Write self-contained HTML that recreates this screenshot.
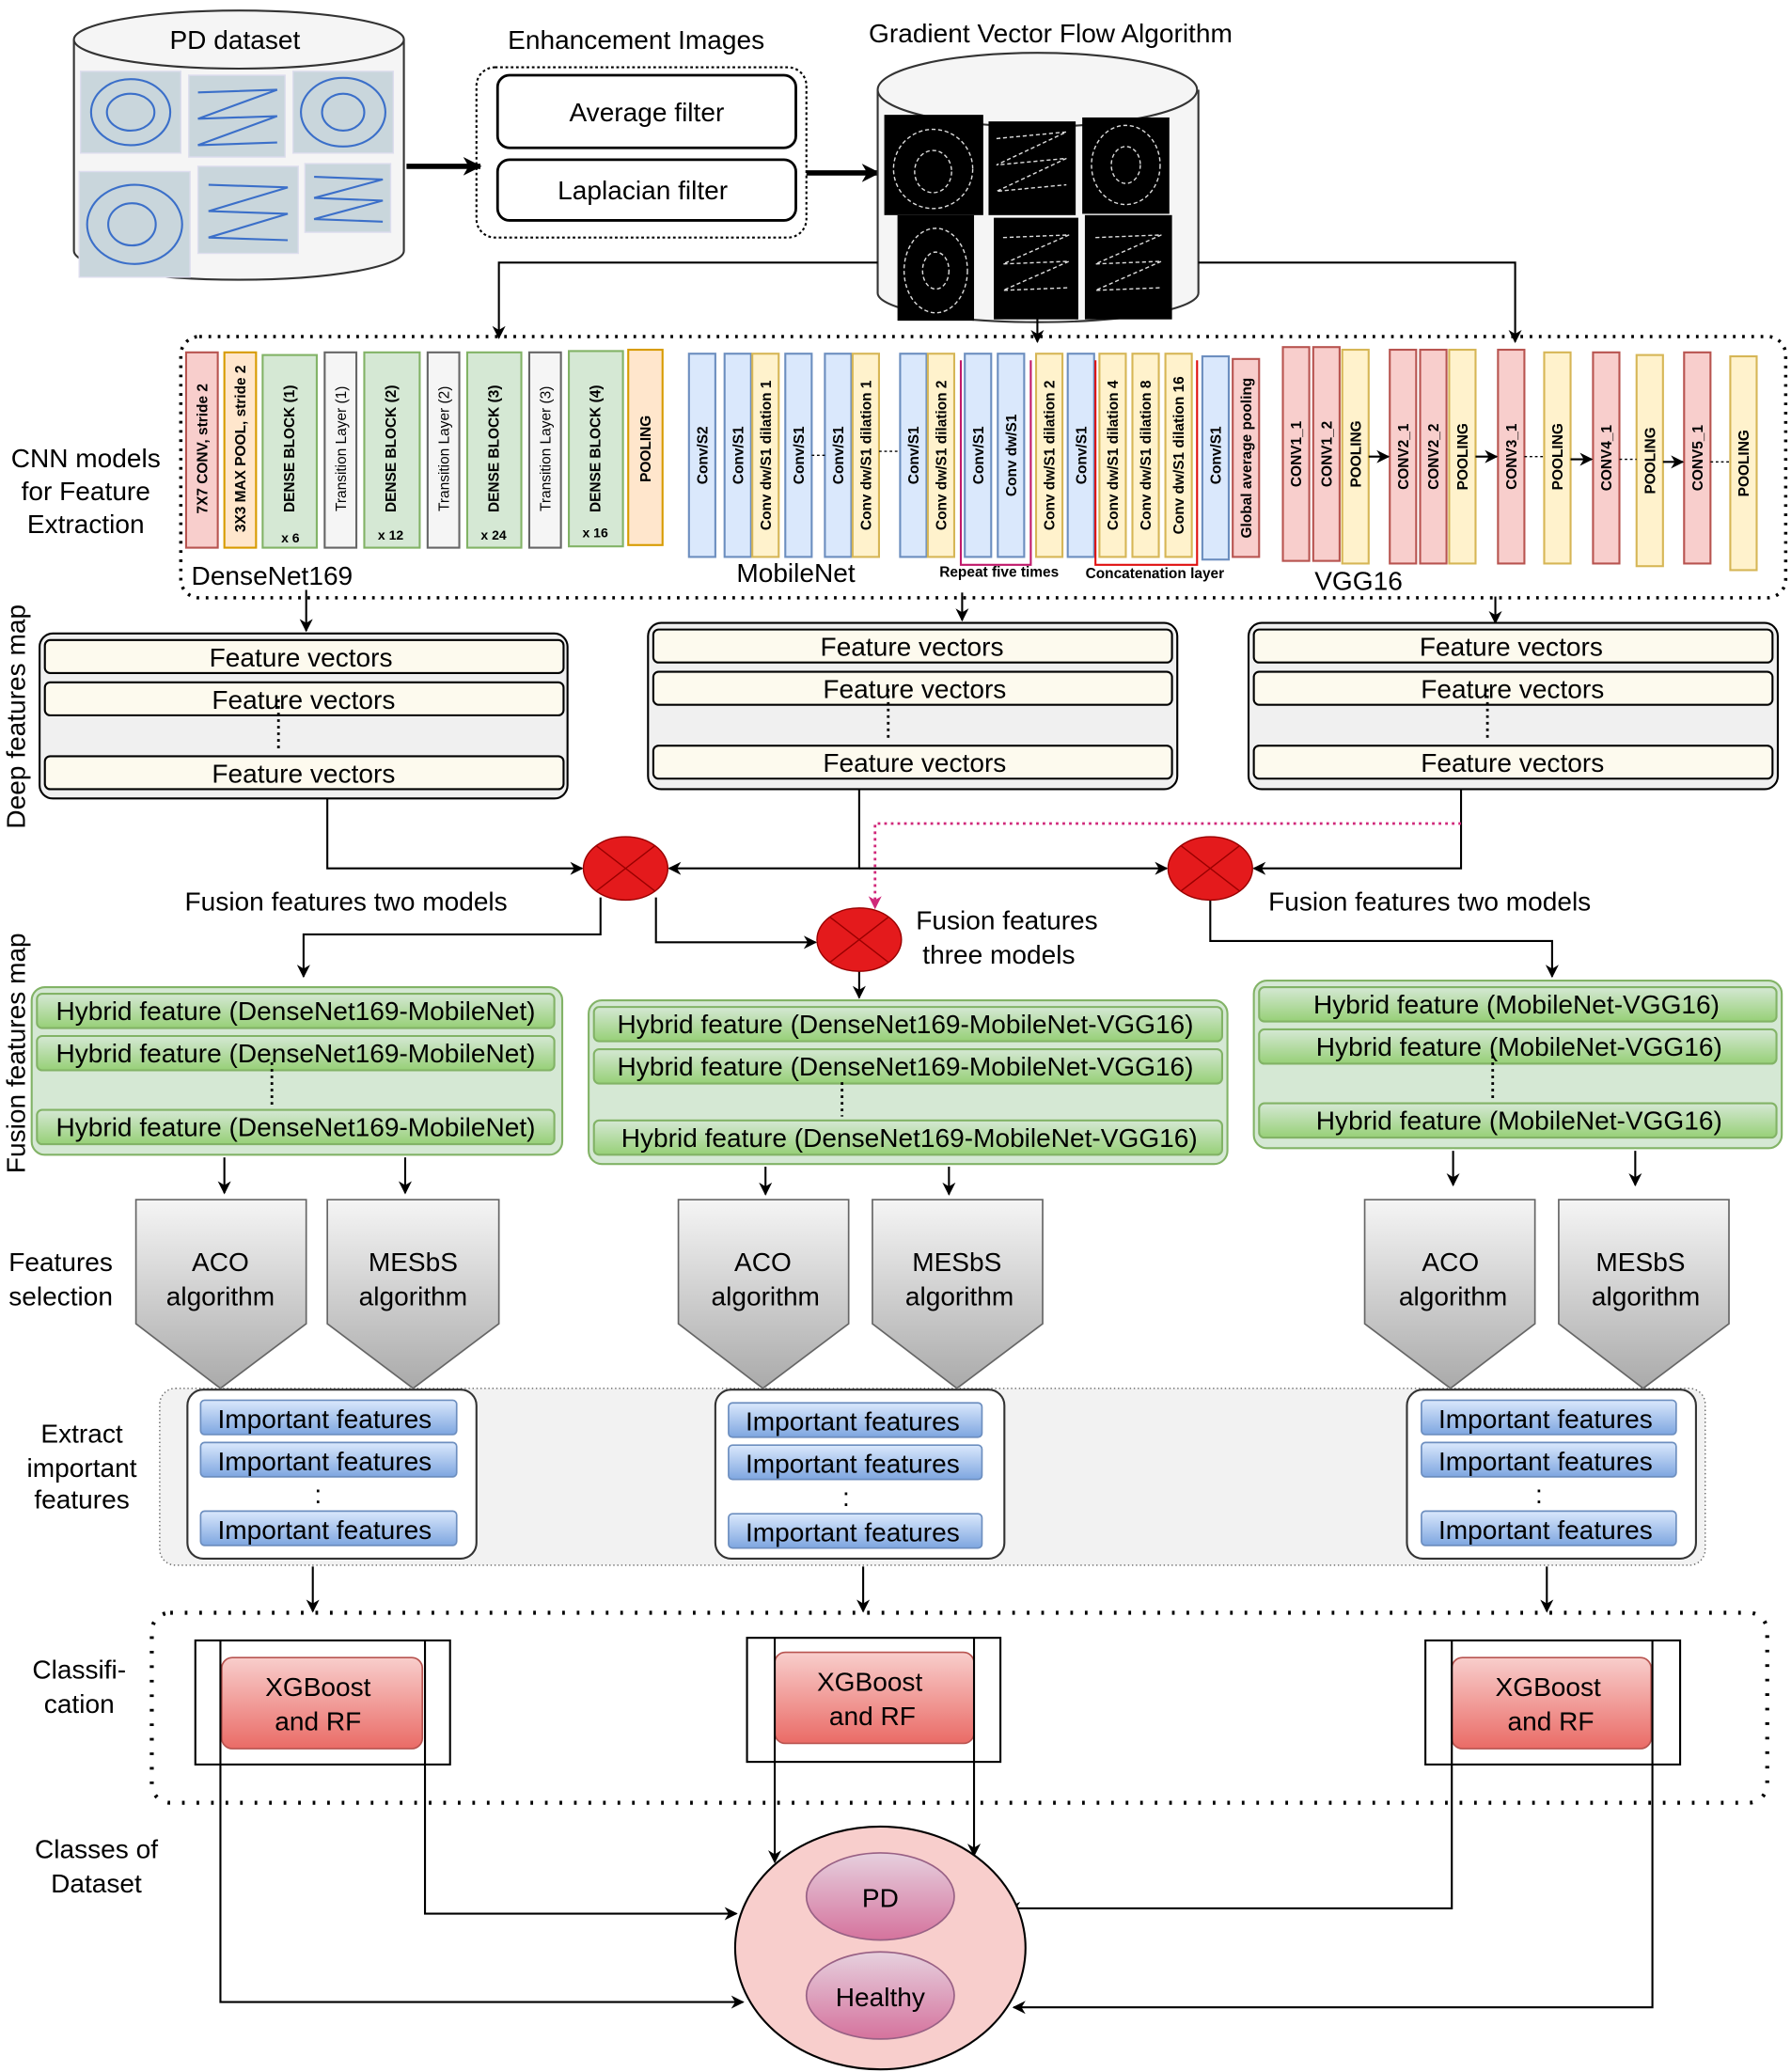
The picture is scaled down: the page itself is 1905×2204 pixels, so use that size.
<!DOCTYPE html>
<html><head><meta charset="utf-8"><style>
html,body{margin:0;padding:0;background:#fff}
svg{display:block}
text{font-family:"Liberation Sans",sans-serif;fill:#000}
.r{font-size:11px;font-weight:bold}
.t{font-size:20px}
</style></head><body>
<svg width="1905" height="2204" viewBox="0 0 1357 1570" xmlns="http://www.w3.org/2000/svg">
<defs>
<marker id="a" markerWidth="10" markerHeight="10" refX="9" refY="5" orient="auto" markerUnits="userSpaceOnUse"><path d="M0,0 L10,5 L0,10 L3,5z" fill="#000"/></marker>
<marker id="ab" markerWidth="14" markerHeight="14" refX="13" refY="7" orient="auto" markerUnits="userSpaceOnUse"><path d="M0,0 L14,7 L0,14 L4,7z" fill="#000"/></marker>
<marker id="ap" markerWidth="10" markerHeight="10" refX="9" refY="5" orient="auto" markerUnits="userSpaceOnUse"><path d="M0,0 L10,5 L0,10 L3,5z" fill="#d0287a"/></marker>
<linearGradient id="gr" x1="0" y1="0" x2="0" y2="1"><stop offset="0" stop-color="#f5f5f5"/><stop offset="1" stop-color="#aaa"/></linearGradient>
<linearGradient id="rd" x1="0" y1="0" x2="0" y2="1"><stop offset="0" stop-color="#f8cecc"/><stop offset="1" stop-color="#ea6b66"/></linearGradient>
<linearGradient id="pu" x1="0" y1="0" x2="0" y2="1"><stop offset="0" stop-color="#e6d0de"/><stop offset="1" stop-color="#d5739d"/></linearGradient>
<linearGradient id="gn" x1="0" y1="0" x2="0" y2="1"><stop offset="0" stop-color="#d5e8d4"/><stop offset="1" stop-color="#97d077"/></linearGradient>
<linearGradient id="bl" x1="0" y1="0" x2="0" y2="1"><stop offset="0" stop-color="#dae8fc"/><stop offset="1" stop-color="#7ea6e0"/></linearGradient>
</defs>

<!-- PD dataset cylinder -->
<path d="M56,30 L56,190 A125,22 0 0 0 306,190 L306,30" fill="#f5f5f5" stroke="#333" stroke-width="1.5"/>
<ellipse cx="181" cy="30" rx="125" ry="22" fill="#f5f5f5" stroke="#333" stroke-width="1.5"/>
<text x="178" y="37" class="t" text-anchor="middle">PD dataset</text>
<g fill="#c9d6dc" stroke="#dde">
<rect x="61" y="54" width="76" height="62"/><rect x="143" y="57" width="73" height="62"/><rect x="222" y="54" width="76" height="62"/>
<rect x="60" y="130" width="84" height="80"/><rect x="150" y="126" width="76" height="66"/><rect x="231" y="124" width="65" height="52"/>
</g>
<g fill="none" stroke="#3b6fc9" stroke-width="1.5">
<ellipse cx="99" cy="85" rx="30" ry="25"/><ellipse cx="99" cy="85" rx="18" ry="14"/>
<path d="M150,70 L210,68 L150,90 L210,88 L150,110 L210,108"/>
<ellipse cx="260" cy="85" rx="32" ry="26"/><ellipse cx="260" cy="85" rx="16" ry="14"/>
<ellipse cx="102" cy="170" rx="36" ry="30"/><ellipse cx="100" cy="170" rx="18" ry="16"/>
<path d="M158,140 L218,142 L158,160 L218,162 L158,180 L218,182"/>
<path d="M238,134 L290,136 L238,150 L290,152 L238,166 L290,168"/>
</g>

<!-- Enhancement -->
<text x="482" y="37" class="t" text-anchor="middle">Enhancement Images</text>
<rect x="361" y="51" width="250" height="129" rx="14" fill="#fff" stroke="#000" stroke-dasharray="2,2" stroke-width="1.5"/>
<rect x="377" y="57" width="226" height="55" rx="9" fill="#fff" stroke="#000" stroke-width="2"/>
<text x="490" y="92" class="t" text-anchor="middle">Average filter</text>
<rect x="377" y="121" width="226" height="46" rx="9" fill="#fff" stroke="#000" stroke-width="2"/>
<text x="487" y="151" class="t" text-anchor="middle">Laplacian filter</text>
<line x1="308" y1="126" x2="364" y2="126" stroke="#000" stroke-width="4" marker-end="url(#ab)"/>
<line x1="611" y1="131" x2="666" y2="131" stroke="#000" stroke-width="4" marker-end="url(#ab)"/>

<!-- GVF cylinder -->
<text x="796" y="32" class="t" text-anchor="middle">Gradient Vector Flow Algorithm</text>
<path d="M665,68 L665,222 A121,22 0 0 0 908,222 L908,68" fill="#f5f5f5" stroke="#333" stroke-width="1.5"/>
<ellipse cx="786" cy="68" rx="121" ry="28" fill="#f5f5f5" stroke="#333" stroke-width="1.5"/>
<g fill="#000"><rect x="670" y="87" width="75" height="76"/><rect x="749" y="92" width="66" height="71"/><rect x="820" y="89" width="66" height="73"/>
<rect x="680" y="163" width="58" height="80"/><rect x="753" y="165" width="64" height="77"/><rect x="822" y="163" width="66" height="79"/></g>
<g fill="none" stroke="#ddd" stroke-width="1" stroke-dasharray="3,2">
<ellipse cx="707" cy="128" rx="30" ry="30"/><ellipse cx="707" cy="130" rx="14" ry="16"/>
<path d="M755,105 L808,100 L755,125 L808,120 L755,145 L808,140"/>
<ellipse cx="853" cy="125" rx="26" ry="30"/><ellipse cx="853" cy="125" rx="11" ry="14"/>
<ellipse cx="709" cy="205" rx="24" ry="32"/><ellipse cx="709" cy="205" rx="10" ry="14"/>
<path d="M760,180 L810,178 L760,200 L810,198 L760,220 L810,218"/>
<path d="M830,180 L880,178 L830,200 L880,198 L830,220 L880,218"/>
</g>
<polyline points="665,199 378,199 378,256" fill="none" stroke="#000" stroke-width="1.5" marker-end="url(#a)"/>
<line x1="786" y1="240" x2="786" y2="259" stroke="#000" stroke-width="1.5" marker-end="url(#a)"/>
<polyline points="908,199 1148,199 1148,259" fill="none" stroke="#000" stroke-width="1.5" marker-end="url(#a)"/>

<!-- CNN region -->
<rect x="137" y="255" width="1216" height="198" rx="14" fill="none" stroke="#000" stroke-width="2.5" stroke-dasharray="2,5"/>
<g stroke-width="1.5">
<!-- DenseNet -->
<rect x="141" y="267" width="24" height="148" fill="#f8cecc" stroke="#b85450"/>
<rect x="170" y="267" width="24" height="148" fill="#ffe6cc" stroke="#d79b00"/>
<rect x="199" y="269" width="41" height="146" fill="#d5e8d4" stroke="#82b366"/>
<rect x="246" y="267" width="24" height="148" fill="#f5f5f5" stroke="#666"/>
<rect x="276" y="267" width="42" height="148" fill="#d5e8d4" stroke="#82b366"/>
<rect x="324" y="267" width="24" height="148" fill="#f5f5f5" stroke="#666"/>
<rect x="354" y="267" width="41" height="148" fill="#d5e8d4" stroke="#82b366"/>
<rect x="401" y="267" width="24" height="148" fill="#f5f5f5" stroke="#666"/>
<rect x="431" y="266" width="41" height="148" fill="#d5e8d4" stroke="#82b366"/>
<rect x="476" y="265" width="26" height="148" fill="#ffe6cc" stroke="#d79b00"/>
<!-- MobileNet -->
<g fill="#dae8fc" stroke="#6c8ebf">
<rect x="522" y="268" width="20" height="154"/><rect x="549" y="268" width="20" height="154"/><rect x="595" y="268" width="20" height="154"/>
<rect x="625" y="268" width="20" height="154"/><rect x="682" y="268" width="20" height="154"/><rect x="731" y="268" width="20" height="154"/>
<rect x="756" y="268" width="20" height="154"/><rect x="809" y="268" width="20" height="154"/><rect x="911" y="270" width="20" height="154"/></g>
<g fill="#fff2cc" stroke="#d6b656">
<rect x="570" y="268" width="20" height="154"/><rect x="646" y="268" width="20" height="154"/><rect x="703" y="268" width="20" height="154"/>
<rect x="785" y="268" width="20" height="154"/><rect x="833" y="268" width="20" height="154"/><rect x="858" y="268" width="20" height="154"/><rect x="883" y="268" width="20" height="154"/></g>
<rect x="934" y="272" width="20" height="150" fill="#f8cecc" stroke="#b85450"/>
<polyline points="728,273 728,428 781,428 781,273" fill="none" stroke="#c0186a" stroke-width="1.5"/>
<polyline points="830,273 830,428 907,428 907,273" fill="none" stroke="#e01010" stroke-width="1.5"/>
<!-- VGG -->
<g fill="#f8cecc" stroke="#b85450">
<rect x="972" y="263" width="20" height="162"/><rect x="995" y="263" width="20" height="162"/><rect x="1053" y="265" width="20" height="162"/>
<rect x="1076" y="265" width="20" height="162"/><rect x="1135" y="265" width="20" height="162"/><rect x="1207" y="267" width="20" height="160"/><rect x="1276" y="267" width="20" height="160"/></g>
<g fill="#fff2cc" stroke="#d6b656">
<rect x="1017" y="265" width="20" height="162"/><rect x="1098" y="265" width="20" height="162"/><rect x="1170" y="267" width="20" height="160"/>
<rect x="1240" y="269" width="20" height="160"/><rect x="1311" y="270" width="20" height="162"/></g>
</g>
<g class="r">
<text transform="translate(157,340) rotate(-90)" text-anchor="middle" class="r">7X7 CONV, stride 2</text>
<text transform="translate(186,340) rotate(-90)" text-anchor="middle" class="r">3X3 MAX POOL, stride 2</text>
<text transform="translate(223,340) rotate(-90)" text-anchor="middle" class="r">DENSE BLOCK (1)</text>
<text transform="translate(262,340) rotate(-90)" text-anchor="middle" class="r" style="font-weight:normal">Transition Layer (1)</text>
<text transform="translate(300,340) rotate(-90)" text-anchor="middle" class="r">DENSE BLOCK (2)</text>
<text transform="translate(340,340) rotate(-90)" text-anchor="middle" class="r" style="font-weight:normal">Transition Layer (2)</text>
<text transform="translate(378,340) rotate(-90)" text-anchor="middle" class="r">DENSE BLOCK (3)</text>
<text transform="translate(417,340) rotate(-90)" text-anchor="middle" class="r" style="font-weight:normal">Transition Layer (3)</text>
<text transform="translate(455,340) rotate(-90)" text-anchor="middle" class="r">DENSE BLOCK (4)</text>
<text transform="translate(493,340) rotate(-90)" text-anchor="middle" class="r">POOLING</text>
<text x="220" y="411" class="r" text-anchor="middle" style="font-size:10px">x 6</text>
<text x="296" y="409" class="r" text-anchor="middle" style="font-size:10px">x 12</text>
<text x="374" y="409" class="r" text-anchor="middle" style="font-size:10px">x 24</text>
<text x="451" y="407" class="r" text-anchor="middle" style="font-size:10px">x 16</text>
<text transform="translate(536,345) rotate(-90)" text-anchor="middle" class="r">Conv/S2</text>
<text transform="translate(563,345) rotate(-90)" text-anchor="middle" class="r">Conv/S1</text>
<text transform="translate(584,345) rotate(-90)" text-anchor="middle" class="r">Conv dw/S1 dilation 1</text>
<text transform="translate(609,345) rotate(-90)" text-anchor="middle" class="r">Conv/S1</text>
<text transform="translate(639,345) rotate(-90)" text-anchor="middle" class="r">Conv/S1</text>
<text transform="translate(660,345) rotate(-90)" text-anchor="middle" class="r">Conv dw/S1 dilation 1</text>
<text transform="translate(696,345) rotate(-90)" text-anchor="middle" class="r">Conv/S1</text>
<text transform="translate(717,345) rotate(-90)" text-anchor="middle" class="r">Conv dw/S1 dilation 2</text>
<text transform="translate(745,345) rotate(-90)" text-anchor="middle" class="r">Conv/S1</text>
<text transform="translate(770,345) rotate(-90)" text-anchor="middle" class="r">Conv dw/S1</text>
<text transform="translate(799,345) rotate(-90)" text-anchor="middle" class="r">Conv dw/S1 dilation 2</text>
<text transform="translate(823,345) rotate(-90)" text-anchor="middle" class="r">Conv/S1</text>
<text transform="translate(847,345) rotate(-90)" text-anchor="middle" class="r">Conv dw/S1 dilation 4</text>
<text transform="translate(872,345) rotate(-90)" text-anchor="middle" class="r">Conv dw/S1 dilation 8</text>
<text transform="translate(897,345) rotate(-90)" text-anchor="middle" class="r">Conv dw/S1 dilation 16</text>
<text transform="translate(925,345) rotate(-90)" text-anchor="middle" class="r">Conv/S1</text>
<text transform="translate(948,347) rotate(-90)" text-anchor="middle" class="r">Global average pooling</text>
<text transform="translate(986,344) rotate(-90)" text-anchor="middle" class="r">CONV1_1</text>
<text transform="translate(1009,344) rotate(-90)" text-anchor="middle" class="r">CONV1_2</text>
<text transform="translate(1031,344) rotate(-90)" text-anchor="middle" class="r">POOLING</text>
<text transform="translate(1067,346) rotate(-90)" text-anchor="middle" class="r">CONV2_1</text>
<text transform="translate(1090,346) rotate(-90)" text-anchor="middle" class="r">CONV2_2</text>
<text transform="translate(1112,346) rotate(-90)" text-anchor="middle" class="r">POOLING</text>
<text transform="translate(1149,346) rotate(-90)" text-anchor="middle" class="r">CONV3_1</text>
<text transform="translate(1184,346) rotate(-90)" text-anchor="middle" class="r">POOLING</text>
<text transform="translate(1221,347) rotate(-90)" text-anchor="middle" class="r">CONV4_1</text>
<text transform="translate(1254,349) rotate(-90)" text-anchor="middle" class="r">POOLING</text>
<text transform="translate(1290,347) rotate(-90)" text-anchor="middle" class="r">CONV5_1</text>
<text transform="translate(1325,351) rotate(-90)" text-anchor="middle" class="r">POOLING</text>
</g>
<g stroke="#000" stroke-width="1.5" marker-end="url(#a)">
<line x1="1037" y1="346" x2="1052" y2="346"/><line x1="1118" y1="346" x2="1134" y2="346"/><line x1="1190" y1="348" x2="1206" y2="348"/><line x1="1260" y1="350" x2="1275" y2="350"/>
</g>
<g stroke="#000" stroke-dasharray="2,2"><line x1="1155" y1="346" x2="1170" y2="346"/><line x1="1227" y1="348" x2="1240" y2="348"/><line x1="1296" y1="350" x2="1311" y2="350"/><line x1="615" y1="345" x2="625" y2="345"/><line x1="666" y1="342" x2="682" y2="342"/></g>
<text x="145" y="443" class="t">DenseNet169</text>
<text x="558" y="441" class="t">MobileNet</text>
<text x="757" y="437" class="r" text-anchor="middle">Repeat five times</text>
<text x="875" y="438" class="r" text-anchor="middle">Concatenation layer</text>
<text x="996" y="447" class="t">VGG16</text>

<!-- left labels -->
<g class="t" text-anchor="middle">
<text x="65" y="354">CNN models</text><text x="65" y="379">for Feature</text><text x="65" y="404">Extraction</text>
<text transform="translate(19,543) rotate(-90)">Deep features map</text>
<text transform="translate(19,798) rotate(-90)">Fusion features map</text>
<text x="46" y="963">Features</text><text x="46" y="989">selection</text>
<text x="62" y="1093">Extract</text><text x="62" y="1119">important</text><text x="62" y="1143">features</text>
<text x="60" y="1272">Classifi-</text><text x="60" y="1298">cation</text>
<text x="73" y="1408">Classes of</text><text x="73" y="1434">Dataset</text>
</g>

<!-- feature vectors -->
<g stroke="#000" stroke-width="1.5">
<line x1="232" y1="447" x2="232" y2="478" marker-end="url(#a)"/>
<line x1="729" y1="449" x2="729" y2="470" marker-end="url(#a)"/>
<line x1="1133" y1="452" x2="1133" y2="472" marker-end="url(#a)"/>
</g>
<g stroke="#000" stroke-width="1.5">
<rect x="30" y="480" width="400" height="125" rx="10" fill="#f0f0f0"/>
<rect x="491" y="472" width="401" height="126" rx="10" fill="#f0f0f0"/>
<rect x="946" y="472" width="401" height="126" rx="10" fill="#f0f0f0"/>
<g fill="#fdfaee">
<rect x="34" y="485" width="393" height="25" rx="4"/><rect x="34" y="517" width="393" height="25" rx="4"/><rect x="34" y="573" width="393" height="25" rx="4"/>
<rect x="495" y="477" width="393" height="25" rx="4"/><rect x="495" y="509" width="393" height="25" rx="4"/><rect x="495" y="565" width="393" height="25" rx="4"/>
<rect x="950" y="477" width="393" height="25" rx="4"/><rect x="950" y="509" width="393" height="25" rx="4"/><rect x="950" y="565" width="393" height="25" rx="4"/>
</g></g>
<g class="t" text-anchor="middle">
<text x="228" y="505">Feature vectors</text><text x="230" y="537">Feature vectors</text><text x="230" y="593">Feature vectors</text>
<text x="691" y="497">Feature vectors</text><text x="693" y="529">Feature vectors</text><text x="693" y="585">Feature vectors</text>
<text x="1145" y="497">Feature vectors</text><text x="1146" y="529">Feature vectors</text><text x="1146" y="585">Feature vectors</text>
</g>
<g stroke="#000" stroke-width="2" stroke-dasharray="2,3"><line x1="211" y1="530" x2="211" y2="570"/><line x1="673" y1="522" x2="673" y2="562"/><line x1="1127" y1="522" x2="1127" y2="562"/></g>

<!-- fusion -->
<g stroke="#000" stroke-width="1.5" fill="none">
<polyline points="248,605 248,658 441,658" marker-end="url(#a)"/>
<polyline points="651,598 651,658 507,658" marker-end="url(#a)"/>
<line x1="651" y1="658" x2="884" y2="658" marker-end="url(#a)"/>
<polyline points="1107,598 1107,658 950,658" marker-end="url(#a)"/>
<polyline points="455,680 455,708 230,708 230,740" marker-end="url(#a)"/>
<polyline points="497,680 497,714 618,714" marker-end="url(#a)"/>
<line x1="651" y1="736" x2="651" y2="756" marker-end="url(#a)"/>
<polyline points="917,680 917,713 1176,713 1176,740" marker-end="url(#a)"/>
</g>
<polyline points="1107,624 663,624 663,688" fill="none" stroke="#d0287a" stroke-width="2" stroke-dasharray="2,3" marker-end="url(#ap)"/>
<g fill="#e41a1c" stroke="#900" stroke-width="1">
<ellipse cx="474" cy="658" rx="32" ry="24"/><ellipse cx="651" cy="712" rx="32" ry="24"/><ellipse cx="917" cy="658" rx="32" ry="24"/></g>
<g stroke="#900" stroke-width="1">
<line x1="452" y1="641" x2="496" y2="675"/><line x1="496" y1="641" x2="452" y2="675"/>
<line x1="629" y1="695" x2="673" y2="729"/><line x1="673" y1="695" x2="629" y2="729"/>
<line x1="895" y1="641" x2="939" y2="675"/><line x1="939" y1="641" x2="895" y2="675"/></g>
<g class="t"><text x="140" y="690">Fusion features two models</text><text x="961" y="690">Fusion features two models</text>
<text x="694" y="704">Fusion features</text><text x="699" y="730">three models</text></g>

<!-- hybrid -->
<g stroke="#82b366" stroke-width="1.5">
<rect x="24" y="748" width="402" height="127" rx="10" fill="#d5e8d4"/>
<rect x="446" y="758" width="484" height="124" rx="10" fill="#d5e8d4"/>
<rect x="950" y="743" width="400" height="127" rx="10" fill="#d5e8d4"/>
<g fill="url(#gn)">
<rect x="28" y="753" width="392" height="26" rx="4"/><rect x="28" y="785" width="392" height="26" rx="4"/><rect x="28" y="841" width="392" height="26" rx="4"/>
<rect x="450" y="763" width="476" height="26" rx="4"/><rect x="450" y="795" width="476" height="26" rx="4"/><rect x="450" y="849" width="476" height="26" rx="4"/>
<rect x="954" y="748" width="392" height="26" rx="4"/><rect x="954" y="780" width="392" height="26" rx="4"/><rect x="954" y="836" width="392" height="26" rx="4"/>
</g></g>
<g class="t" text-anchor="middle">
<text x="224" y="773">Hybrid feature (DenseNet169-MobileNet)</text><text x="224" y="805">Hybrid feature (DenseNet169-MobileNet)</text><text x="224" y="861">Hybrid feature (DenseNet169-MobileNet)</text>
<text x="686" y="783">Hybrid feature (DenseNet169-MobileNet-VGG16)</text><text x="686" y="815">Hybrid feature (DenseNet169-MobileNet-VGG16)</text><text x="689" y="869">Hybrid feature (DenseNet169-MobileNet-VGG16)</text>
<text x="1149" y="768">Hybrid feature (MobileNet-VGG16)</text><text x="1151" y="800">Hybrid feature (MobileNet-VGG16)</text><text x="1151" y="856">Hybrid feature (MobileNet-VGG16)</text>
</g>
<g stroke="#000" stroke-width="2" stroke-dasharray="2,3"><line x1="206" y1="805" x2="206" y2="838"/><line x1="638" y1="820" x2="638" y2="846"/><line x1="1131" y1="800" x2="1131" y2="833"/></g>

<!-- selection -->
<g stroke="#000" stroke-width="1.5" marker-end="url(#a)">
<line x1="170" y1="877" x2="170" y2="904"/><line x1="307" y1="877" x2="307" y2="904"/>
<line x1="580" y1="884" x2="580" y2="905"/><line x1="719" y1="884" x2="719" y2="905"/>
<line x1="1101" y1="872" x2="1101" y2="898"/><line x1="1239" y1="872" x2="1239" y2="898"/>
</g>
<g fill="url(#gr)" stroke="#666" stroke-width="1.2">
<path d="M103,909 H232 V1003 L167,1052 L103,1003Z"/><path d="M248,909 H378 V1003 L313,1052 L248,1003Z"/>
<path d="M514,909 H643 V1003 L578,1052 L514,1003Z"/><path d="M661,909 H790 V1003 L725,1052 L661,1003Z"/>
<path d="M1034,909 H1163 V1003 L1099,1052 L1034,1003Z"/><path d="M1181,909 H1310 V1003 L1245,1052 L1181,1003Z"/>
</g>
<g class="t" text-anchor="middle">
<text x="167" y="963">ACO</text><text x="167" y="989">algorithm</text><text x="313" y="963">MESbS</text><text x="313" y="989">algorithm</text>
<text x="578" y="963">ACO</text><text x="580" y="989">algorithm</text><text x="725" y="963">MESbS</text><text x="727" y="989">algorithm</text>
<text x="1099" y="963">ACO</text><text x="1101" y="989">algorithm</text><text x="1243" y="963">MESbS</text><text x="1247" y="989">algorithm</text>
</g>

<!-- important features -->
<rect x="121" y="1052" width="1171" height="134" rx="12" fill="#f2f2f2" stroke="#666" stroke-dasharray="1,2"/>
<g fill="#fff" stroke="#333" stroke-width="1.5">
<rect x="142" y="1053" width="219" height="128" rx="12"/><rect x="542" y="1053" width="219" height="128" rx="12"/><rect x="1066" y="1053" width="219" height="128" rx="12"/></g>
<g fill="url(#bl)" stroke="#6c8ebf" stroke-width="1.2">
<rect x="152" y="1061" width="194" height="26" rx="3"/><rect x="152" y="1093" width="194" height="26" rx="3"/><rect x="152" y="1145" width="194" height="26" rx="3"/>
<rect x="552" y="1063" width="192" height="26" rx="3"/><rect x="552" y="1095" width="192" height="26" rx="3"/><rect x="552" y="1147" width="192" height="26" rx="3"/>
<rect x="1077" y="1061" width="193" height="26" rx="3"/><rect x="1077" y="1093" width="193" height="26" rx="3"/><rect x="1077" y="1145" width="193" height="26" rx="3"/>
</g>
<g class="t" text-anchor="middle">
<text x="246" y="1082">Important features</text><text x="246" y="1114">Important features</text><text x="246" y="1166">Important features</text>
<text x="646" y="1084">Important features</text><text x="646" y="1116">Important features</text><text x="646" y="1168">Important features</text>
<text x="1171" y="1082">Important features</text><text x="1171" y="1114">Important features</text><text x="1171" y="1166">Important features</text>
<text x="241" y="1139">:</text><text x="641" y="1141">:</text><text x="1166" y="1139">:</text>
</g>
<g stroke="#000" stroke-width="1.5" marker-end="url(#a)">
<line x1="237" y1="1187" x2="237" y2="1221"/><line x1="654" y1="1187" x2="654" y2="1221"/><line x1="1172" y1="1187" x2="1172" y2="1221"/>
</g>

<!-- classification -->
<rect x="115" y="1222" width="1224" height="144" rx="14" fill="none" stroke="#000" stroke-width="3" stroke-dasharray="2,9"/>
<g fill="#fff" stroke="#000" stroke-width="1.5">
<rect x="148" y="1243" width="193" height="94"/><rect x="566" y="1241" width="192" height="94"/><rect x="1080" y="1243" width="193" height="94"/></g>
<g fill="url(#rd)" stroke="#b85450" stroke-width="1.2">
<rect x="168" y="1256" width="152" height="69" rx="8"/><rect x="587" y="1252" width="151" height="69" rx="8"/><rect x="1100" y="1256" width="151" height="69" rx="8"/></g>
<g class="t" text-anchor="middle">
<text x="241" y="1285">XGBoost</text><text x="241" y="1311">and RF</text>
<text x="659" y="1281">XGBoost</text><text x="661" y="1307">and RF</text>
<text x="1173" y="1285">XGBoost</text><text x="1175" y="1311">and RF</text>
</g>

<!-- classes -->
<g stroke="#000" stroke-width="1.5" fill="none">
<polyline points="167,1243 167,1517 563,1517" marker-end="url(#a)"/>
<polyline points="322,1243 322,1450 558,1450" marker-end="url(#a)"/>
<line x1="587" y1="1241" x2="587" y2="1411" marker-end="url(#a)"/>
<line x1="738" y1="1241" x2="738" y2="1406" marker-end="url(#a)"/>
<polyline points="1100,1243 1100,1446 764,1446" marker-end="url(#a)"/>
<polyline points="1252,1243 1252,1521 768,1521" marker-end="url(#a)"/>
</g>
<ellipse cx="667" cy="1476" rx="110" ry="92" fill="#f8cecc" stroke="#000" stroke-width="1.5"/>
<ellipse cx="667" cy="1437" rx="56" ry="33" fill="url(#pu)" stroke="#996185" stroke-width="1.2"/>
<ellipse cx="667" cy="1512" rx="56" ry="33" fill="url(#pu)" stroke="#996185" stroke-width="1.2"/>
<text x="667" y="1445" class="t" text-anchor="middle">PD</text>
<text x="667" y="1520" class="t" text-anchor="middle">Healthy</text>
</svg>
</body></html>
